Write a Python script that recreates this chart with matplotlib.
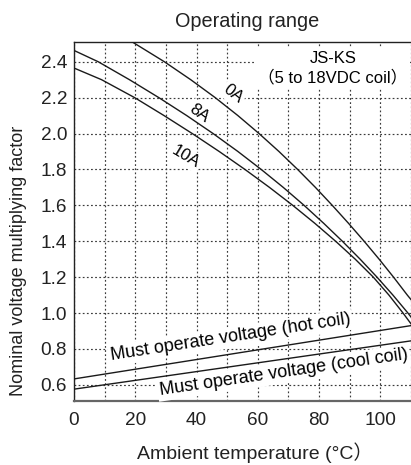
import numpy as np
import matplotlib.pyplot as plt

plt.rcParams['font.family'] = ['Liberation Sans', 'Noto Sans CJK JP']

# curves (ambient temperature, factor)
t_0a = [15.2, 20.0, 29.5, 38.1, 46.1, 53.5, 60.4, 66.9, 73.0, 78.8, 84.3, 89.6, 94.7, 99.6, 104.3, 108.8, 110]
v_0a = [2.55, 2.50, 2.40, 2.30, 2.20, 2.10, 2.00, 1.90, 1.80, 1.70, 1.60, 1.50, 1.40, 1.30, 1.20, 1.10, 1.075]
t_8a = [0, 7.9, 18.1, 27.7, 36.8, 45.4, 53.5, 61.1, 68.3, 75.1, 81.5, 87.6, 93.4, 98.9, 104.1, 109.0, 110]
v_8a = [2.463, 2.40, 2.30, 2.20, 2.10, 2.00, 1.90, 1.80, 1.70, 1.60, 1.50, 1.40, 1.30, 1.20, 1.10, 1.00, 0.978]
t_10a = [0, 9.0, 19.8, 29.4, 38.6, 47.4, 55.8, 63.8, 71.4, 78.6, 85.4, 91.8, 97.7, 102.8, 107.4, 110]
v_10a = [2.365, 2.30, 2.20, 2.10, 2.00, 1.90, 1.80, 1.70, 1.60, 1.50, 1.40, 1.30, 1.20, 1.10, 1.00, 0.94]
t_coil = [0, 110]
v_hot = [0.633, 0.93]
v_cool = [0.576, 0.845]

xticks = [0, 20, 40, 60, 80, 100]
yticks = [0.6, 0.8, 1.0, 1.2, 1.4, 1.6, 1.8, 2.0, 2.2, 2.4]

fig = plt.figure(figsize=(4.11, 4.65), dpi=100)
ax = fig.add_axes([74/411, 1-401/465, 1-74/411, (401-42)/465])

lc = '#1a1a1a'
for t, v in [(t_0a, v_0a), (t_8a, v_8a), (t_10a, v_10a), (t_coil, v_hot), (t_coil, v_cool)]:
    ax.plot(t, v, color=lc, lw=1.0, zorder=4)

ax.set_xlim(0, 109.5)
ax.set_ylim(0.51, 2.51)
ax.set_xticks(xticks)
ax.set_xticks(np.arange(10, 111, 20), minor=True)
ax.set_yticks(yticks)
ax.set_yticklabels([f'{y:.1f}' for y in yticks])
ax.tick_params(which='both', length=0, labelsize=13.7, colors='#222222')
ax.tick_params(axis='x', pad=8)
ax.tick_params(axis='y', pad=5)
ax.grid(True, which='both', ls=(0, (1.5, 2)), lw=0.85, color='#3a3a3a', zorder=1)
ax.set_axisbelow(True)

for s in ['top', 'left']:
    ax.spines[s].set_color('#222222')
    ax.spines[s].set_linewidth(1.0)
ax.spines['bottom'].set_color('#666666')
ax.spines['bottom'].set_linewidth(1.6)
ax.spines['right'].set_visible(False)

box = dict(facecolor='white', edgecolor='none', pad=1.5)
ax.text(51.9, 2.222, '0A', fontsize=12, rotation=-38, ha='center', va='center', bbox=box, zorder=3)
ax.text(41.0, 2.115, '8A', fontsize=12, rotation=-36, ha='center', va='center', bbox=box, zorder=3)
ax.text(36.6, 1.87, '10A', fontsize=12, rotation=-31, ha='center', va='center', bbox=box, zorder=3)

ax.text(51.0, 0.863, 'Must operate voltage (hot coil)', fontsize=13, rotation=8.7,
        rotation_mode='anchor', ha='center', va='center', bbox=box, zorder=3)
ax.text(68.5, 0.667, 'Must operate voltage (cool coil)', fontsize=13, rotation=8.3,
        rotation_mode='anchor', ha='center', va='center', bbox=box, zorder=3)

ax.text(84.5, 2.365, 'JS-KS\n（5 to 18VDC coil）', fontsize=12, ha='center', va='center',
        multialignment='center', linespacing=1.3,
        bbox=dict(facecolor='white', edgecolor='none', pad=2), zorder=3)

fig.text(247/411, 1-27/465, 'Operating range', fontsize=14.3, ha='center', va='baseline', color='#222222')
fig.text(255/411, 1-459/465, 'Ambient temperature (°C）', fontsize=14, ha='center', va='baseline', color='#222222')
fig.text(18.5/411, 1-261/465, 'Nominal voltage multiplying factor', fontsize=13, rotation=90,
         ha='center', va='center', color='#222222')

fig.savefig('out.png', dpi=100)
